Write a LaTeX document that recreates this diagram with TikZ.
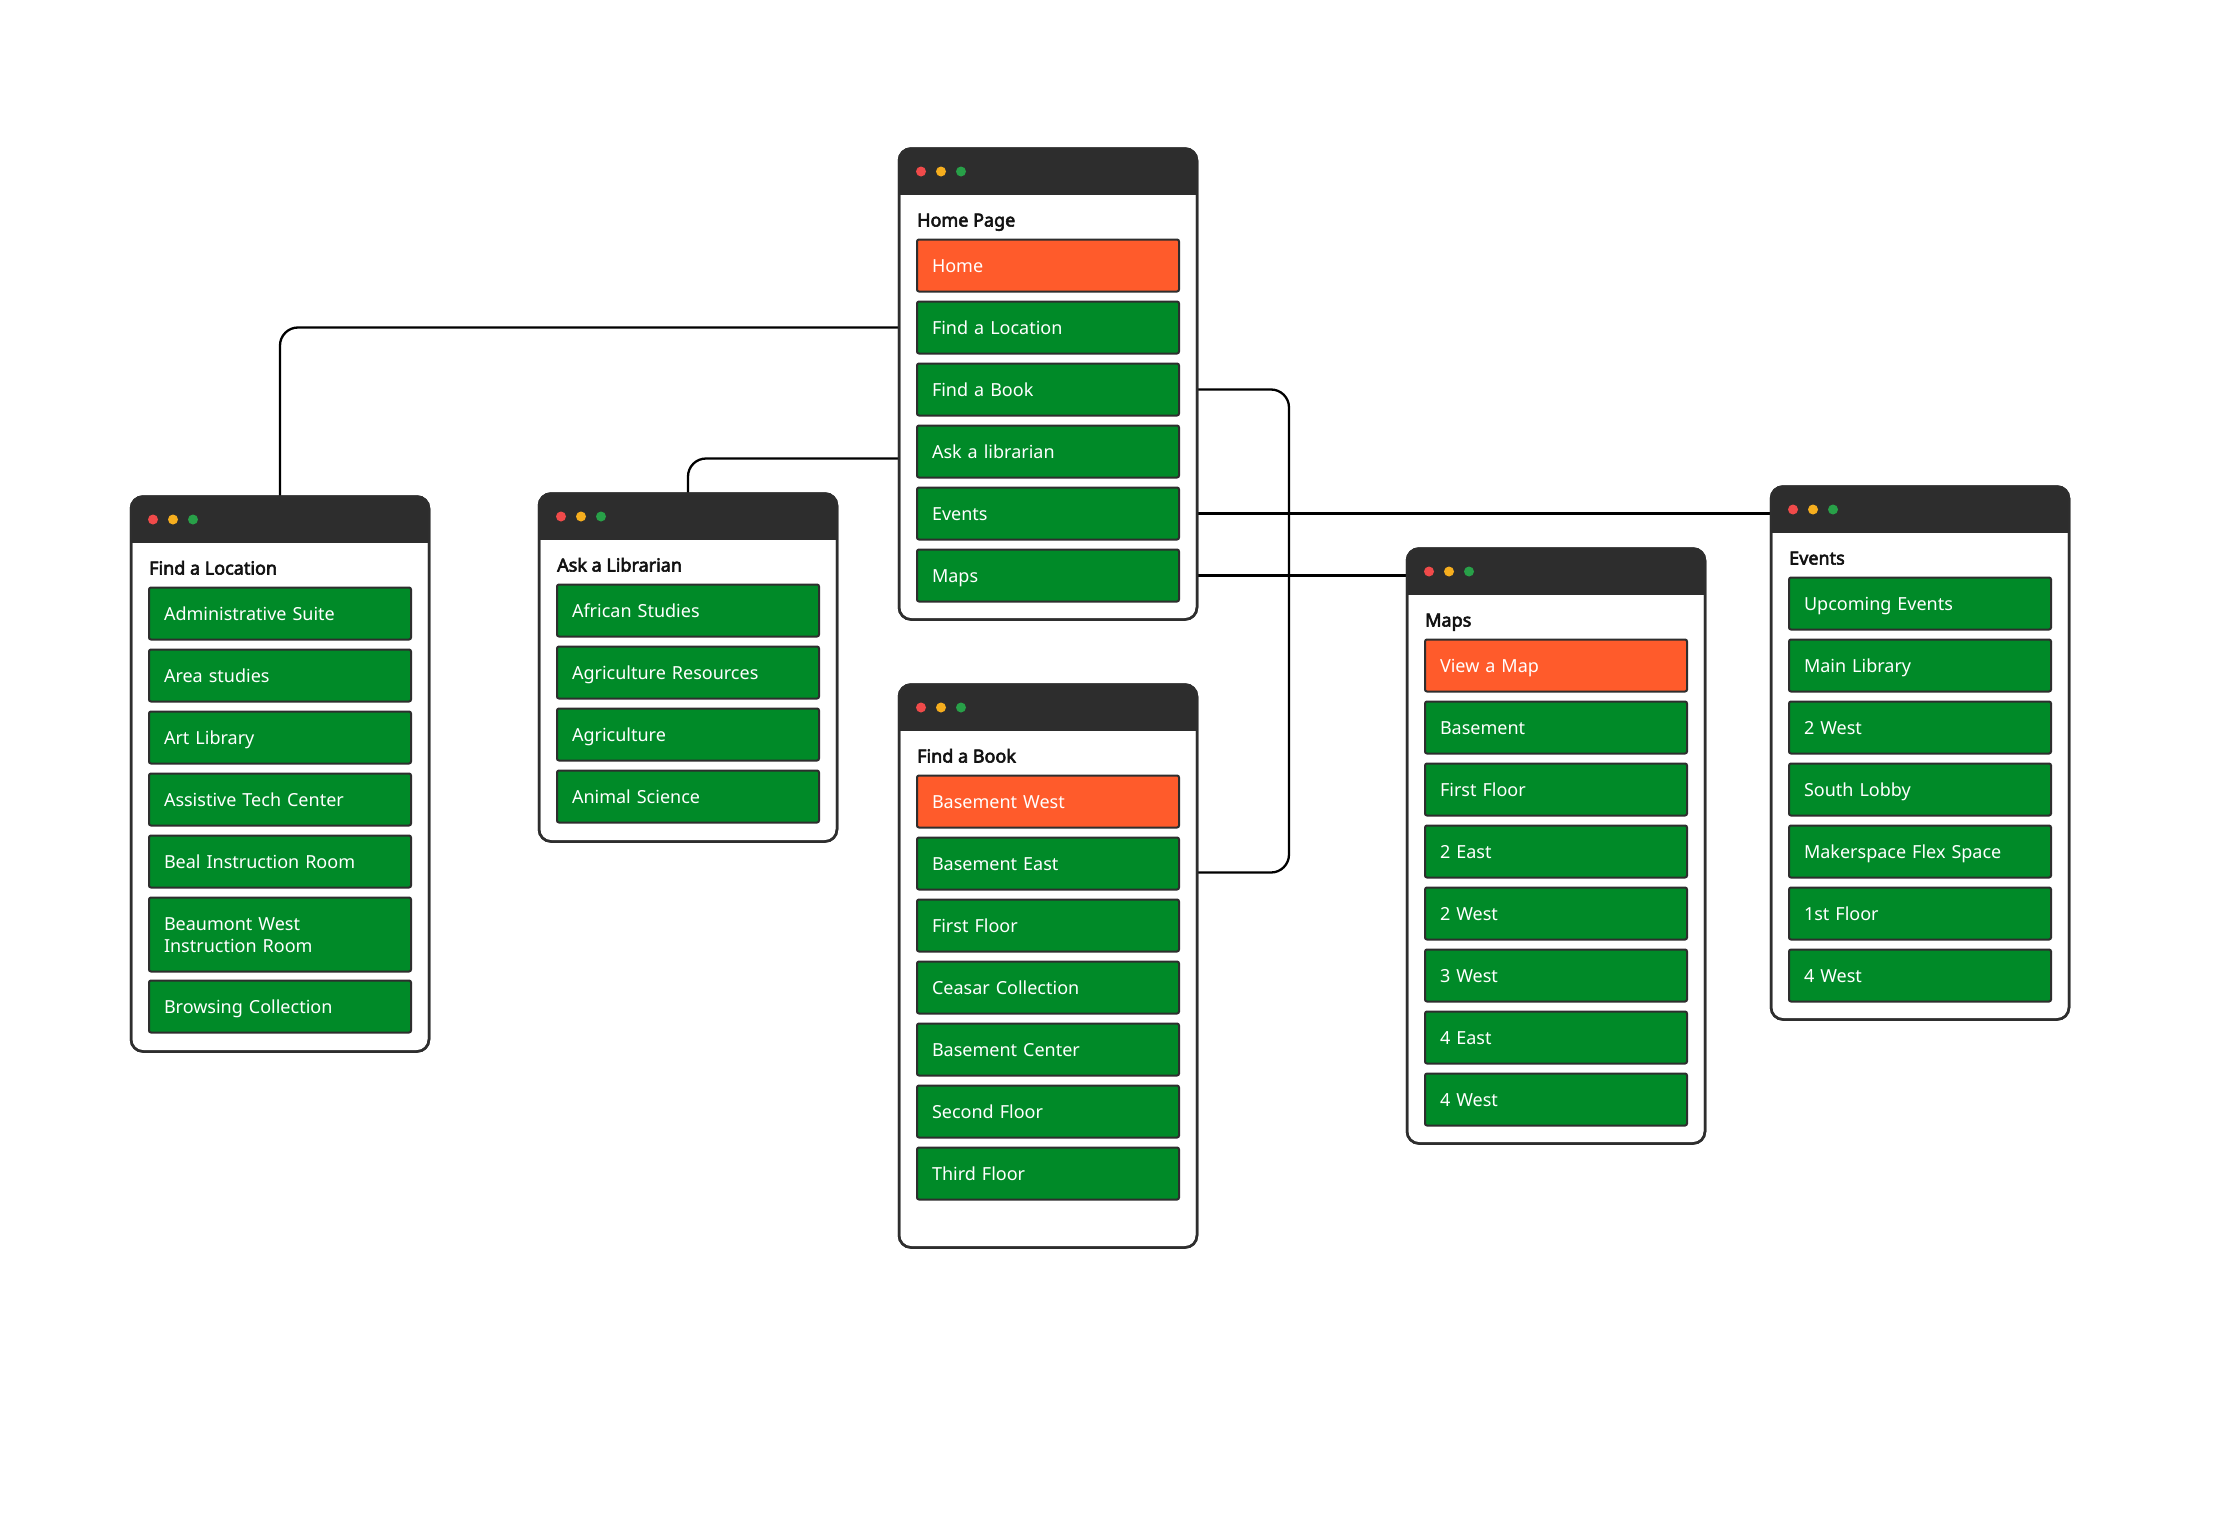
\documentclass[tikz,border=0pt]{standalone}
\usepackage{fontspec}
\setmainfont{Noto Sans}[AutoFakeBold=3.2]
\usetikzlibrary{calc,backgrounds}

\definecolor{hdrgray}{HTML}{2D2D2D}
\definecolor{edgegray}{HTML}{2E2E2E}
\definecolor{btngreen}{HTML}{008A28}
\definecolor{btnorange}{HTML}{FF5B2B}
\definecolor{dotred}{HTML}{F04A4A}
\definecolor{dotyellow}{HTML}{F6AE1E}
\definecolor{dotgreen}{HTML}{28A048}

\tikzset{
  winbody/.style={draw=edgegray, line width=2.5pt, fill=white, rounded corners=12pt,
    minimum width=298pt, inner sep=0pt, outer sep=0pt},
  winedge/.style={draw=edgegray, line width=2.5pt, rounded corners=12pt},
  btn/.style={draw=edgegray, line width=2pt, rounded corners=2pt,
    minimum width=262pt, minimum height=52pt, text width=232pt, align=left,
    inner xsep=15pt, inner ysep=0pt, outer sep=0pt, text=white,
    text height=13pt, text depth=0pt, font=\fontsize{18pt}{22pt}\selectfont},
  wintitle/.style={inner sep=0pt, anchor=base west, text=black!93,
    font=\fontsize{18pt}{22pt}\selectfont\bfseries},
  conn/.style={draw=black, line width=2.3pt, rounded corners=18pt},
}

% browser-style window: name, left, top, height, title
\newcommand{\uiwin}[5]{%
  \node[winbody, minimum height=#4pt, anchor=north west] (#1) at (#2,#3) {};
  \begin{scope}
    \clip[rounded corners=12pt] (#1.north west) rectangle (#1.south east);
    \fill[hdrgray] (#1.north west) rectangle ([yshift=-46pt]#1.north east);
  \end{scope}
  \draw[winedge] (#1.north west) rectangle (#1.south east);
  \fill[dotred]    ($(#1.north west)+(22,23)$) circle (5pt);
  \fill[dotyellow] ($(#1.north west)+(42,23)$) circle (5pt);
  \fill[dotgreen]  ($(#1.north west)+(62,23)$) circle (5pt);
  \node[wintitle] (#1-t) at ($(#1.north west)+(18,78)$) {#5};
}

% stacked menu buttons inside a window: window name, list of label/colour
\newcommand{\uilist}[2]{%
  \foreach [count=\k from 0] \lbl/\fc in {#2} {
    \node[btn, fill=\fc, anchor=north west] (#1-\k)
      at ($(#1.north west)+(18,{91+62*\k})$) {\lbl};
  }
}

\begin{document}
\begin{tikzpicture}[x=1pt, y=-1pt]
\useasboundingbox (0,-1.5) rectangle (2232,1529.5);

% Home page
\uiwin{home}{899}{147}{471}{Home Page}
\uilist{home}{Home/btnorange, Find a Location/btngreen, Find a Book/btngreen,
  Ask a librarian/btngreen, Events/btngreen, Maps/btngreen}

% Find a Location
\uiwin{loc}{131}{495}{555}{Find a Location}
\uilist{loc}{Administrative Suite/btngreen, Area studies/btngreen,
  Art Library/btngreen, Assistive Tech Center/btngreen,
  Beal Instruction Room/btngreen}
\node[btn, fill=btngreen, anchor=north west, minimum height=74pt,
  text height=13pt, text depth=22pt] (loc-5)
  at ($(loc.north west)+(18,401)$) {Beaumont West\\Instruction Room};
\node[btn, fill=btngreen, anchor=north west] (loc-6)
  at ($(loc.north west)+(18,484)$) {Browsing Collection};

% Ask a Librarian
\uiwin{ask}{539}{492}{348}{Ask a Librarian}
\uilist{ask}{African Studies/btngreen, Agriculture Resources/btngreen,
  Agriculture/btngreen, Animal Science/btngreen}

% Find a Book
\uiwin{book}{899}{683}{563}{Find a Book}
\uilist{book}{Basement West/btnorange, Basement East/btngreen,
  First Floor/btngreen, Ceasar Collection/btngreen, Basement Center/btngreen,
  Second Floor/btngreen, Third Floor/btngreen}

% Maps
\uiwin{maps}{1407}{547}{595}{Maps}
\uilist{maps}{View a Map/btnorange, Basement/btngreen, First Floor/btngreen,
  2 East/btngreen, 2 West/btngreen, 3 West/btngreen, 4 East/btngreen,
  4 West/btngreen}

% Events
\uiwin{events}{1771}{485}{533}{Events}
\uilist{events}{Upcoming Events/btngreen, Main Library/btngreen,
  2 West/btngreen, South Lobby/btngreen, Makerspace Flex Space/btngreen,
  1st Floor/btngreen, 4 West/btngreen}

% links from the home menu to the pages, kept behind the windows
\coordinate (askOut) at ($(home.west |- home-3)+(0,7)$);
\coordinate (bookIn) at ($(book.north east)+(0,188)$);
\begin{scope}[on background layer]
  \fill[white] (0,-1.5) rectangle (2232,1529.5);
  \draw[conn] (home.west |- home-1) -| (loc.north);
  \draw[conn] (askOut) -| (ask.north);
  \draw[conn] (home.east |- home-2) -- ++(92,0) |- (bookIn);
  \draw[conn] (home.east |- home-4) -- (events.west |- home-4);
  \draw[conn] (home.east |- home-5) -- (maps.west |- home-5);
\end{scope}
\end{tikzpicture}
\end{document}
